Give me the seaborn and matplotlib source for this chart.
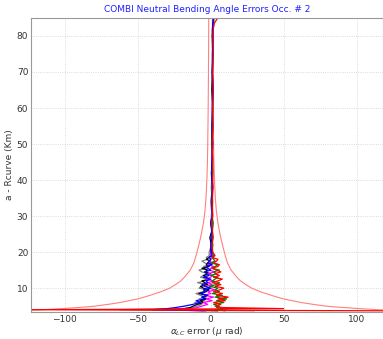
# COMBI neutral bending angle errors, occultation 2
import numpy as np
import pandas as pd
import matplotlib
matplotlib.use('Agg')
import matplotlib.pyplot as plt
import seaborn as sns

# ------------------------------------------
# data
# ------------------------------------------

# altitude levels (km) shared by the error profiles
alt = [3.7, 4.0, 4.3, 4.6, 5.0, 5.5, 6.0, 6.5, 7.0, 7.5, 8.0, 8.5, 9.0, 9.5,
       10.0, 10.5, 11.0, 11.5, 12.0, 12.5, 13.0, 13.5, 14.0, 14.5, 15.0, 15.5,
       16.0, 16.5, 17.0, 17.5, 18.0, 18.5, 19.0, 20.0, 22.0, 24.0, 26.0, 28.0,
       30.0, 34.0, 38.0, 42.0, 46.0, 50.0, 55.0, 60.0, 65.0, 70.0, 75.0, 80.0,
       82.0, 83.5, 84.5, 85.0]

err_gray = [30, -62, -20, -12,
            -9, -6, -11, -4, -8, -3, -7, -10, -5, -2, -8, -6, -3, -9, -4, -1,
            -7, -5, -2, -6, -8, -3, -5, -1, -4, -6, -2, -3, -1,
            -1, 0.5, -0.5, 0.8, 0.2,
            0.6, 1.0, 0.4, 1.1, 0.7, 1.2, 0.9, 1.3, 1.0, 1.4, 1.1, 1.5,
            1.3, 1.6, 1.5, 1.7]

err_black = [5, -25, -18, -14,
             -12, -9, -5, -7, -3, -6, -2, -8, -4, -1, -5, -7, -2, -4, -6, -1,
             -3, -5, 0, -4, -2, -6, -1, -3, -2, 0, -3, -1, 0,
             0, 0.5, -0.5, 1.0, 0.0,
             0.8, 0.3, 1.0, 0.5, 1.2, 0.6, 1.0, 1.4, 0.8, 1.2, 1.5, 1.0,
             1.3, 1.5, 1.8, 2.0]

err_magenta = [-5, -30, -14, -9,
               -6, -2, -5, 1, -3, 2, -4, 0, -2, 3, -1, -4, 1, -2, 2, -3,
               0, 1, -2, 3, -1, 0, 2, -2, 1, -1, 0, 2, 0,
               0.2, 1.0, 0.4, 0.9, 1.2,
               0.5, 1.1, 0.8, 1.3, 0.9, 1.1, 1.4, 1.0, 1.5, 1.2, 1.4, 1.6,
               1.4, 1.7, 1.6, 1.8]

err_green = [10, 3, 12, 4,
             6, 2, 9, 4, 11, 3, 8, 1, 6, 3, 5, -1, 4, 6, 1, 3,
             5, 0, 4, 2, 6, 1, 3, 5, 0, 3, 2, 1, 2,
             1.0, 1.5, 0.8, 1.2, 1.8,
             1.0, 1.4, 0.9, 1.6, 1.2, 1.0, 1.5, 1.3, 1.7, 1.1, 1.6, 1.4,
             1.8, 2.0, 2.2, 2.4]

err_blue = [-3, -40, -30, -24,
            -18, -12, -7, -10, -4, -6, -2, -7, -3, -5, 0, -4, -6, -2, -3, 0,
            -5, -1, -3, -4, 0, -2, -3, 1, -2, -1, 0, -1, 1,
            0.5, 0.0, 1.0, 0.6, 0.2,
            1.2, 0.8, 1.3, 0.6, 1.0, 1.5, 0.9, 1.2, 1.6, 1.0, 1.3, 1.5,
            1.2, 1.6, 1.9, 2.1]

err_red = [120, -125, 50, 8,
           3, 7, 2, 10, 5, 12, 4, 8, 2, 6, 9, 3, 7, 1, 5, 8,
           2, 6, 3, 7, 4, 1, 5, 6, 2, 4, 5, 1, 3,
           1.5, 0.8, 1.8, 1.2, 0.6,
           1.5, 1.0, 1.7, 1.2, 1.5, 1.0, 1.6, 1.3, 1.8, 1.4, 1.7, 1.5,
           1.8, 2.5, 4.0, 5.0]

# error envelope (km, micro rad)
env_alt = [3.5, 3.75, 4.0, 4.25, 4.5, 4.75, 5.0, 5.5, 6.0, 6.5, 7.0, 7.5, 8.0,
           9.0, 10.0, 11.0, 12.0, 13.0, 14.0, 15.0, 17.0, 19.0, 21.0, 23.0,
           25.0, 28.0, 31.0, 35.0, 40.0, 45.0, 50.0, 60.0, 70.0, 85.0]
env_err = [150, 130, 115, 104, 95, 86, 79, 70, 62, 56, 50, 45.5, 41.5,
           34, 28, 24, 20.5, 18, 16, 14, 11.5, 10, 8.7, 7.5,
           6.4, 5, 4, 3.2, 2.6, 2.2, 2.0, 1.7, 1.5, 1.3]

series = [
    ('gray', err_gray, '#808080'),
    ('black', err_black, '#000000'),
    ('magenta', err_magenta, '#ff00ff'),
    ('green', err_green, '#008000'),
    ('blue', err_blue, '#0000ff'),
    ('red', err_red, '#ff0000'),
]

# ------------------------------------------
# figure
# ------------------------------------------
sns.set_theme(style='white')
plt.rcParams['font.family'] = ['DejaVu Sans']

fig = plt.figure(figsize=(3.83, 3.39), dpi=100)
ax = fig.add_axes([0.081, 0.08, 0.919, 0.867])

env = pd.DataFrame({'alt': env_alt, 'err': env_err})
for sign in (1, -1):
    sns.lineplot(x=sign * env['err'], y=env['alt'], sort=False, estimator=None,
                 color='#ff8080', lw=0.8, ax=ax)

for name, err, col in series:
    df = pd.DataFrame({'alt': alt, 'err': err})
    sns.lineplot(data=df, x='err', y='alt', sort=False, estimator=None,
                 color=col, lw=0.9, ax=ax)

ax.set_xlim(-123, 118)
ax.set_ylim(3.4, 85)
ax.set_xticks([-100, -50, 0, 50, 100])
ax.set_yticks([10, 20, 30, 40, 50, 60, 70, 80])
ax.grid(True, linestyle=':', color='#d0d0d0', lw=0.6)
ax.tick_params(direction='in', length=3, labelsize=6.5, colors='#333333',
               width=0.5, pad=2)
for s in ax.spines.values():
    s.set_color('#999999')
    s.set_linewidth(0.8)

ax.set_title('COMBI Neutral Bending Angle Errors Occ. # 2', color='#2020ff',
             fontsize=6.5, pad=4)
ax.set_xlabel(r'$\alpha_{LC}$ error ($\mu$ rad)', fontsize=6.5,
              color='#333333', labelpad=1)
ax.set_ylabel('a - Rcurve (Km)', fontsize=6.5, color='#333333', labelpad=2)

fig.savefig('out.png', dpi=100)
